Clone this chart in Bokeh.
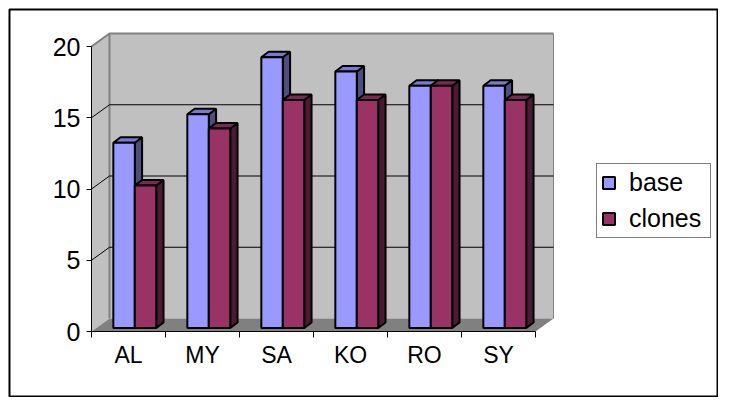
from bokeh.plotting import figure
from bokeh.models import Range1d, LinearAxis, FixedTicker, Legend, LegendItem
from bokeh.embed import file_html
from bokeh.resources import INLINE

categories = ["AL", "MY", "SA", "KO", "RO", "SY"]
base = [13, 15, 19, 18, 17, 17]
clones = [10, 14, 16, 16, 17, 16]
y_ticks = [0, 5, 10, 15, 20]

FONT = "Liberation Sans"
WALL, FLOOR, EDGE = "#C0C0C0", "#808080", "#808080"
N = len(categories)
YMAX = y_ticks[-1]

# scale: pixels per data unit, and depth offset of the 3-D box in data units
PX = 74.0
PY = 14.25
DX = 18 / PX
DY = 13 / PY
# bar geometry in data units
BAR_LEFT, BAR_W = 0.295, 0.29
BAR_DX, BAR_DY = 7.3 / PX, 5.5 / PY
BAR_Y0 = 0.25

W, H = 718, 397
FL, FT, FR, FB = 9, 9, 717, 396   # frame in page pixels
X0, Y0 = 91, 331                  # page position of the data origin

p = figure(
    width=W, height=H, output_backend="svg", toolbar_location=None,
    x_range=Range1d((FL - X0) / PX, (FR - X0) / PX),
    y_range=Range1d((Y0 - FB) / PY, (Y0 - FT) / PY),
    x_axis_type=None, y_axis_type=None,
    min_border_left=9, min_border_right=1, min_border_top=9, min_border_bottom=1,
)
p.grid.visible = False
p.background_fill_color = "white"
p.border_fill_color = "white"
p.outline_line_color = "black"
p.outline_line_width = 2

# walls and floor
p.patch([0, DX, DX, 0], [0, DY, YMAX + DY, YMAX], fill_color=WALL, line_color=None)
p.quad(left=DX, right=N + DX, bottom=DY, top=YMAX + DY, fill_color=WALL, line_color=None)
p.patch([0, N, N + DX, DX], [0, 0, DY, DY], fill_color=FLOOR, line_color=None)
p.line([0, DX, N + DX], [YMAX, YMAX + DY, YMAX + DY], line_color=EDGE, line_width=2)
p.line([DX, DX], [DY, YMAX + DY], line_color=EDGE, line_width=2)
p.line([N + DX, N + DX], [DY, YMAX + DY], line_color=EDGE, line_width=1)

# grid lines on side wall and back wall
for v in y_ticks[1:-1]:
    p.line([0, DX, N + DX], [v, v + DY, v + DY], line_color="black", line_width=1)


def series(values, offset, face, side, top):
    lefts = [i + BAR_LEFT + offset * BAR_W for i in range(N)]
    rights = [l + BAR_W for l in lefts]
    tops = [v + BAR_Y0 for v in values]
    p.patches(
        [[r, r + BAR_DX, r + BAR_DX, r] for r in rights],
        [[BAR_Y0, BAR_Y0 + BAR_DY, t + BAR_DY, t] for t in tops],
        fill_color=side, line_color="black", line_width=2,
    )
    p.patches(
        [[l, l + BAR_DX, r + BAR_DX, r] for l, r in zip(lefts, rights)],
        [[t, t + BAR_DY, t + BAR_DY, t] for t in tops],
        fill_color=top, line_color="black", line_width=2,
    )
    return p.quad(left=lefts, right=rights, bottom=BAR_Y0, top=tops,
                  fill_color=face, line_color="black", line_width=2)


r_base = series(base, 0, "#9999FF", "#4D4D80", "#7A7ACC")
r_clones = series(clones, 1, "#993366", "#4D1A33", "#7A2952")

# axes
y_axis = LinearAxis(fixed_location=0, ticker=FixedTicker(ticks=y_ticks), bounds=(0, YMAX),
                    major_label_text_font=FONT, major_label_text_font_size="25px",
                    major_label_text_color="black", major_tick_out=5, major_tick_in=0,
                    major_label_standoff=6, minor_tick_out=0, minor_tick_in=0,
                    axis_line_color="black", major_tick_line_color="black")
p.add_layout(y_axis, "left")

x_axis = LinearAxis(fixed_location=0, ticker=FixedTicker(ticks=list(range(N + 1))), bounds=(0, N),
                    major_label_text_font_size="0px", major_label_text_color=None,
                    major_tick_out=6, major_tick_in=0, minor_tick_out=0, minor_tick_in=0,
                    axis_line_color="black", major_tick_line_color="black")
p.add_layout(x_axis, "below")

label_ticks = [i + 0.5 for i in range(N)]
label_axis = LinearAxis(fixed_location=0, ticker=FixedTicker(ticks=label_ticks),
                        major_label_overrides=dict(zip(label_ticks, categories)),
                        major_label_text_font=FONT, major_label_text_font_size="23px",
                        major_label_text_color="black", major_label_standoff=10,
                        major_tick_out=0, major_tick_in=0, minor_tick_out=0, minor_tick_in=0,
                        axis_line_color=None, major_tick_line_color=None)
p.add_layout(label_axis, "below")

legend = Legend(
    items=[LegendItem(label="base", renderers=[r_base]),
           LegendItem(label="clones", renderers=[r_clones])],
    location=(587, 158), orientation="vertical",
    border_line_color="black", border_line_width=1, background_fill_color="white",
    background_fill_alpha=1, glyph_width=15, glyph_height=15, label_standoff=13,
    label_text_font=FONT, label_text_font_size="25px", label_text_color="black",
    label_height=27, label_width=77, spacing=7, padding=4, margin=0,
)
p.add_layout(legend, "center")

open("out.html", "w").write(file_html(p, INLINE))
